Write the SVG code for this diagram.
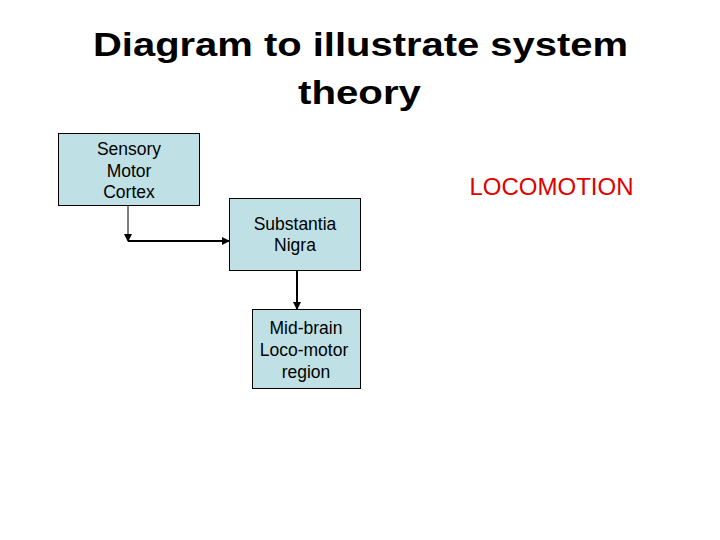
<svg xmlns="http://www.w3.org/2000/svg" width="720" height="540" viewBox="0 0 720 540">
<style>
text{font-family:"Liberation Sans",Arial,sans-serif}
.t{font-size:34px;font-weight:bold;fill:#000;text-anchor:middle}
.b{fill:#BFE0E4;stroke:#000;stroke-width:1}
.l{font-size:17.5px;fill:#000;text-anchor:middle}
.c{fill:none;stroke:#000}
</style>
<defs>
<marker id="a" markerWidth="8" markerHeight="8" refX="7" refY="4" orient="auto" markerUnits="userSpaceOnUse"><path d="M0,0L8,4L0,8z" fill="#000"/></marker>
</defs>
<rect width="720" height="540" fill="#fff"/>
<text class="t" x="360.5" y="56" textLength="535" lengthAdjust="spacingAndGlyphs">Diagram to illustrate system</text>
<text class="t" x="359.5" y="104" textLength="123" lengthAdjust="spacingAndGlyphs">theory</text>
<g id="smc"><rect class="b" x="58.500" y="133.500" width="141" height="72"/>
<text class="l" x="129" y="155">Sensory</text><text class="l" x="129" y="177">Motor</text><text class="l" x="129" y="198">Cortex</text></g>
<g id="sn"><rect class="b" x="229.500" y="198.500" width="131" height="72"/>
<text class="l" x="295" y="230">Substantia</text><text class="l" x="295" y="251">Nigra</text></g>
<g id="mb"><rect class="b" x="252.500" y="309.500" width="108" height="79"/>
<text class="l" x="306" y="334">Mid-brain</text><text class="l" x="304" y="356">Loco-motor</text><text class="l" x="306" y="378">region</text></g>
<g id="loco"><text x="551.500" y="195" font-size="24" fill="#E00000" text-anchor="middle">LOCOMOTION</text></g>
<g id="connectors">
<path class="c" d="M128,206V241" stroke-width="1" marker-end="url(#a)"/>
<path class="c" d="M128,241H229" stroke-width="2" marker-end="url(#a)"/>
<path class="c" d="M297,271V309" stroke-width="2" marker-end="url(#a)"/>
</g>
</svg>
